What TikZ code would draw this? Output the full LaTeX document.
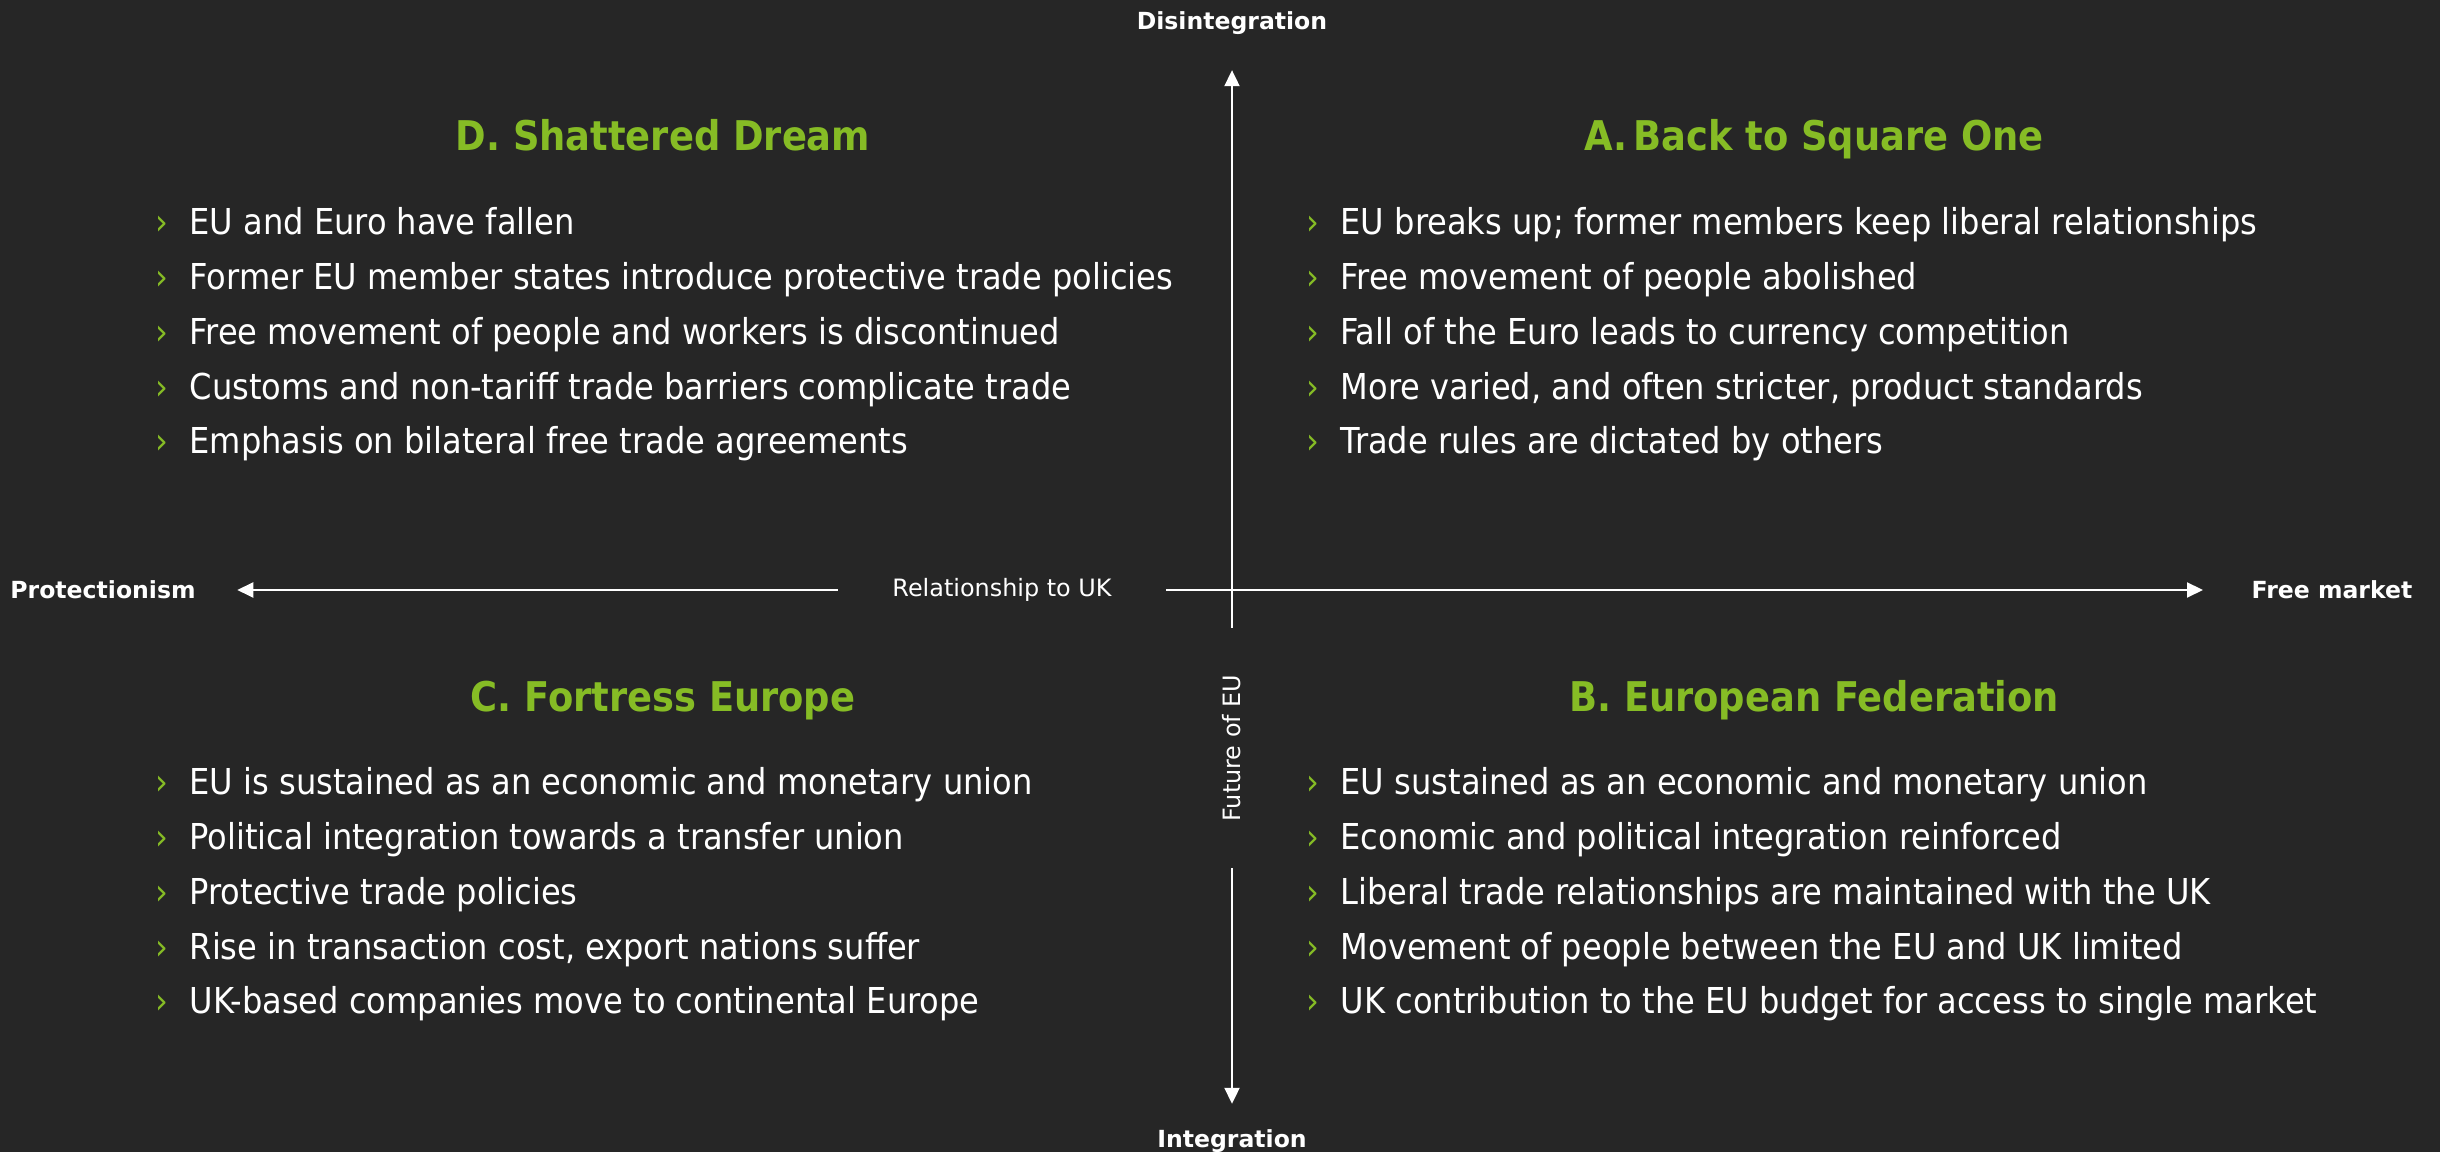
\documentclass[tikz,border=0pt]{standalone}
\usepackage{fontspec}
\setmainfont{DejaVu Sans Condensed}
\newfontfamily\axisfont{DejaVu Sans}
\usetikzlibrary{positioning,arrows.meta}
\definecolor{slate}{HTML}{262626}
\definecolor{leaf}{HTML}{86BC25}
\newcommand{\scenpoint}[1]{\makebox[3.4mm][l]{\textcolor{leaf}{›}}#1}
\tikzset{
  >={Triangle[length=1.6mm,width=1.5mm]},
  axis line/.style={draw=white,line width=0.2mm,->},
  axis end/.style={
    text=white,
    font=\axisfont\fontsize{6.7}{8}\selectfont\bfseries,
    inner sep=0pt
  },
  axis name/.style={
    text=white,
    font=\axisfont\fontsize{6.8}{8}\selectfont,
    inner ysep=0pt
  },
  scenario/.style={
    text=leaf,
    font=\fontsize{11.65}{13}\selectfont\bfseries,
    inner sep=0pt,
    text height=3mm,
    text depth=0.9mm
  },
  point/.style={
    text=white,
    font=\fontsize{10.15}{12}\selectfont,
    anchor=west,
    inner sep=0pt,
    text height=2.6mm,
    text depth=0.8mm
  },
  node distance=1.93mm
}

\begin{document}
\begin{tikzpicture}[x=0.1mm,y=-0.1mm]
\fill[slate] (0,0) rectangle (2440,1152);
\useasboundingbox (0,0) rectangle (2440,1152);
% Axes
\node[axis end] (disint)  at (1232,23)   {Disintegration};
\node[axis end] (integ)   at (1232,1141) {Integration};
\node[axis end] (protect) at (103,590)   {Protectionism};
\node[axis end] (freemkt) at (2332,590)  {Free market};
\node[axis name,inner xsep=5.4mm] (relUK) at (1002,590) {Relationship to UK};
\node[axis name,inner xsep=4.6mm,rotate=90] (futEU) at (1232,748) {Future of EU};
\draw[axis line,shorten >=3.5mm] (futEU) -- (disint);
\draw[axis line,shorten >=2.5mm] (futEU) -- (integ);
\draw[axis line,shorten >=4.1mm] (relUK) -- (protect);
\draw[axis line,shorten >=4.8mm] (relUK) -- (freemkt);
% D: top left
\node[scenario] (scenD) at (663,140) {D. Shattered Dream};
\node[point] (d1) at (155,226) {\scenpoint{EU and Euro have fallen}};
\node[point] (d2) [below=of d1.south west,anchor=north west] {\scenpoint{Former EU member states introduce protective trade policies}};
\node[point] (d3) [below=of d2.south west,anchor=north west] {\scenpoint{Free movement of people and workers is discontinued}};
\node[point] (d4) [below=of d3.south west,anchor=north west] {\scenpoint{Customs and non-tariff trade barriers complicate trade}};
\node[point] (d5) [below=of d4.south west,anchor=north west] {\scenpoint{Emphasis on bilateral free trade agreements}};
% A: top right
\node[scenario] (scenA) at (1814,140) {A.\hspace{0.15em}Back to Square One};
\node[point] (a1) at (1306,226) {\scenpoint{EU breaks up; former members keep liberal relationships}};
\node[point] (a2) [below=of a1.south west,anchor=north west] {\scenpoint{Free movement of people abolished}};
\node[point] (a3) [below=of a2.south west,anchor=north west] {\scenpoint{Fall of the Euro leads to currency competition}};
\node[point] (a4) [below=of a3.south west,anchor=north west] {\scenpoint{More varied, and often stricter, product standards}};
\node[point] (a5) [below=of a4.south west,anchor=north west] {\scenpoint{Trade rules are dictated by others}};
% C: bottom left
\node[scenario] (scenC) at (663,701) {C. Fortress Europe};
\node[point] (c1) at (155,786) {\scenpoint{EU is sustained as an economic and monetary union}};
\node[point] (c2) [below=of c1.south west,anchor=north west] {\scenpoint{Political integration towards a transfer union}};
\node[point] (c3) [below=of c2.south west,anchor=north west] {\scenpoint{Protective trade policies}};
\node[point] (c4) [below=of c3.south west,anchor=north west] {\scenpoint{Rise in transaction cost, export nations suffer}};
\node[point] (c5) [below=of c4.south west,anchor=north west] {\scenpoint{UK-based companies move to continental Europe}};
% B: bottom right
\node[scenario] (scenB) at (1814,701) {B. European Federation};
\node[point] (b1) at (1306,786) {\scenpoint{EU sustained as an economic and monetary union}};
\node[point] (b2) [below=of b1.south west,anchor=north west] {\scenpoint{Economic and political integration reinforced}};
\node[point] (b3) [below=of b2.south west,anchor=north west] {\scenpoint{Liberal trade relationships are maintained with the UK}};
\node[point] (b4) [below=of b3.south west,anchor=north west] {\scenpoint{Movement of people between the EU and UK limited}};
\node[point] (b5) [below=of b4.south west,anchor=north west] {\scenpoint{UK contribution to the EU budget for access to single market}};
\end{tikzpicture}
\end{document}
